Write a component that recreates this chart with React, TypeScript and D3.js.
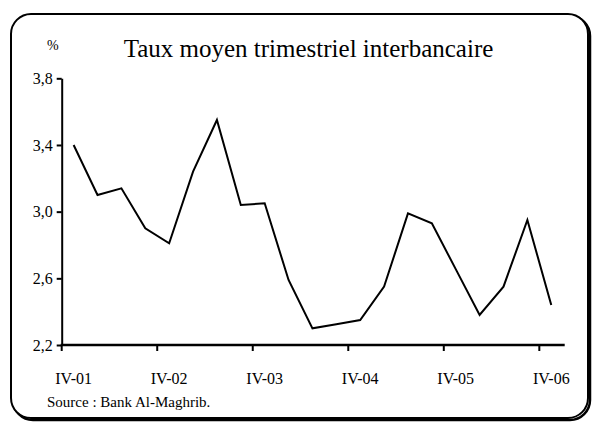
import React, { useEffect, useRef } from 'react';
import * as d3 from 'd3';

// quarters from IV-01 to IV-06
const quarters = [
    'IV-01',
    'I-02', 'II-02', 'III-02', 'IV-02',
    'I-03', 'II-03', 'III-03', 'IV-03',
    'I-04', 'II-04', 'III-04', 'IV-04',
    'I-05', 'II-05', 'III-05', 'IV-05',
    'I-06', 'II-06', 'III-06', 'IV-06',
];

const rates = [
    3.40,
    3.10, 3.14, 2.90, 2.81,
    3.24, 3.55, 3.04, 3.05,
    2.59, 2.30, 2.325, 2.35,
    2.55, 2.99, 2.93, 2.655,
    2.38, 2.55, 2.95, 2.44,
];

const yTicks = [2.2, 2.6, 3.0, 3.4, 3.8];
const xLabels = ['IV-01', 'IV-02', 'IV-03', 'IV-04', 'IV-05', 'IV-06'];

const title = 'Taux moyen trimestriel interbancaire';
const source = 'Source : Bank Al-Maghrib.';

const dims = {
    width: 592,
    height: 422,
    left: 61.7,
    right: 563.2,
    top: 78.3,
    bottom: 345,
};

const FONT = "Liberation Serif, Times New Roman, serif";

const App = () => {
    const container = useRef<HTMLDivElement>(null);

    useEffect(() => {
        if (!container.current) return;
        d3.select(container.current).selectAll('*').remove();

        const svg = d3.select(container.current)
            .append('svg')
            .attr('width', dims.width)
            .attr('height', dims.height)
            .attr('font-family', FONT)
            .style('display', 'block');

        // frame with shadow
        svg.append('rect')
            .attr('x', 13).attr('y', 16)
            .attr('width', 577).attr('height', 404)
            .attr('rx', 20).attr('ry', 20)
            .attr('fill', 'none').attr('stroke', '#000').attr('stroke-width', 2.5);
        svg.append('rect')
            .attr('x', 11).attr('y', 14)
            .attr('width', 577).attr('height', 404)
            .attr('rx', 20).attr('ry', 20)
            .attr('fill', '#fff').attr('stroke', '#000').attr('stroke-width', 2);

        const x = d3.scaleBand()
            .domain(quarters)
            .range([dims.left, dims.right])
            .padding(0);

        const y = d3.scaleLinear()
            .domain([2.2, 3.8])
            .range([dims.bottom, dims.top]);

        // y axis
        const yAxis = d3.axisLeft(y)
            .tickValues(yTicks)
            .tickSize(5)
            .tickSizeOuter(0)
            .tickPadding(4)
            .tickFormat((d: any) => d.toFixed(1).replace('.', ','));

        const yg = svg.append('g')
            .attr('transform', `translate(${dims.left},0)`)
            .call(yAxis)
            .attr('font-family', FONT)
            .attr('font-size', 16);
        yg.select('.domain').attr('stroke-width', 2);
        yg.selectAll('.tick line').attr('stroke-width', 2);
        yg.selectAll('text').attr('fill', '#000');

        // x axis: labels at band centres, tick marks at band edges
        const xAxis = d3.axisBottom(x)
            .tickValues(xLabels)
            .tickSize(0)
            .tickSizeOuter(0)
            .tickPadding(28);

        const xg = svg.append('g')
            .attr('transform', `translate(0,${dims.bottom})`)
            .call(xAxis)
            .attr('font-family', FONT)
            .attr('font-size', 16);
        xg.select('.domain').remove();
        xg.selectAll('text').attr('fill', '#000');

        xg.selectAll('line.edge')
            .data(xLabels)
            .join('line')
            .attr('class', 'edge')
            .attr('x1', (d: any) => x(d) as number)
            .attr('x2', (d: any) => x(d) as number)
            .attr('y1', 0)
            .attr('y2', 6)
            .attr('stroke', '#000')
            .attr('stroke-width', 2);

        xg.append('line')
            .attr('x1', dims.left - 1)
            .attr('x2', dims.right + 1.5)
            .attr('y1', 0)
            .attr('y2', 0)
            .attr('stroke', '#000')
            .attr('stroke-width', 2.5);

        // the series
        const line = d3.line<number>()
            .x((_, i) => (x(quarters[i]) as number) + x.bandwidth() / 2)
            .y(d => y(d));

        svg.append('path')
            .datum(rates)
            .attr('d', line)
            .attr('fill', 'none')
            .attr('stroke', '#000')
            .attr('stroke-width', 2)
            .attr('stroke-linejoin', 'miter');

        // texts
        svg.append('text')
            .attr('x', 308.5)
            .attr('y', 57)
            .attr('text-anchor', 'middle')
            .attr('font-size', 25)
            .text(title);

        svg.append('text')
            .attr('x', 47)
            .attr('y', 50)
            .attr('font-size', 14)
            .text('%');

        svg.append('text')
            .attr('x', 47)
            .attr('y', 407)
            .attr('font-size', 15)
            .text(source);
    }, []);

    return (<div ref={container} style={{ position: 'absolute', left: 0, top: 0 }} />);
};

export default App;
